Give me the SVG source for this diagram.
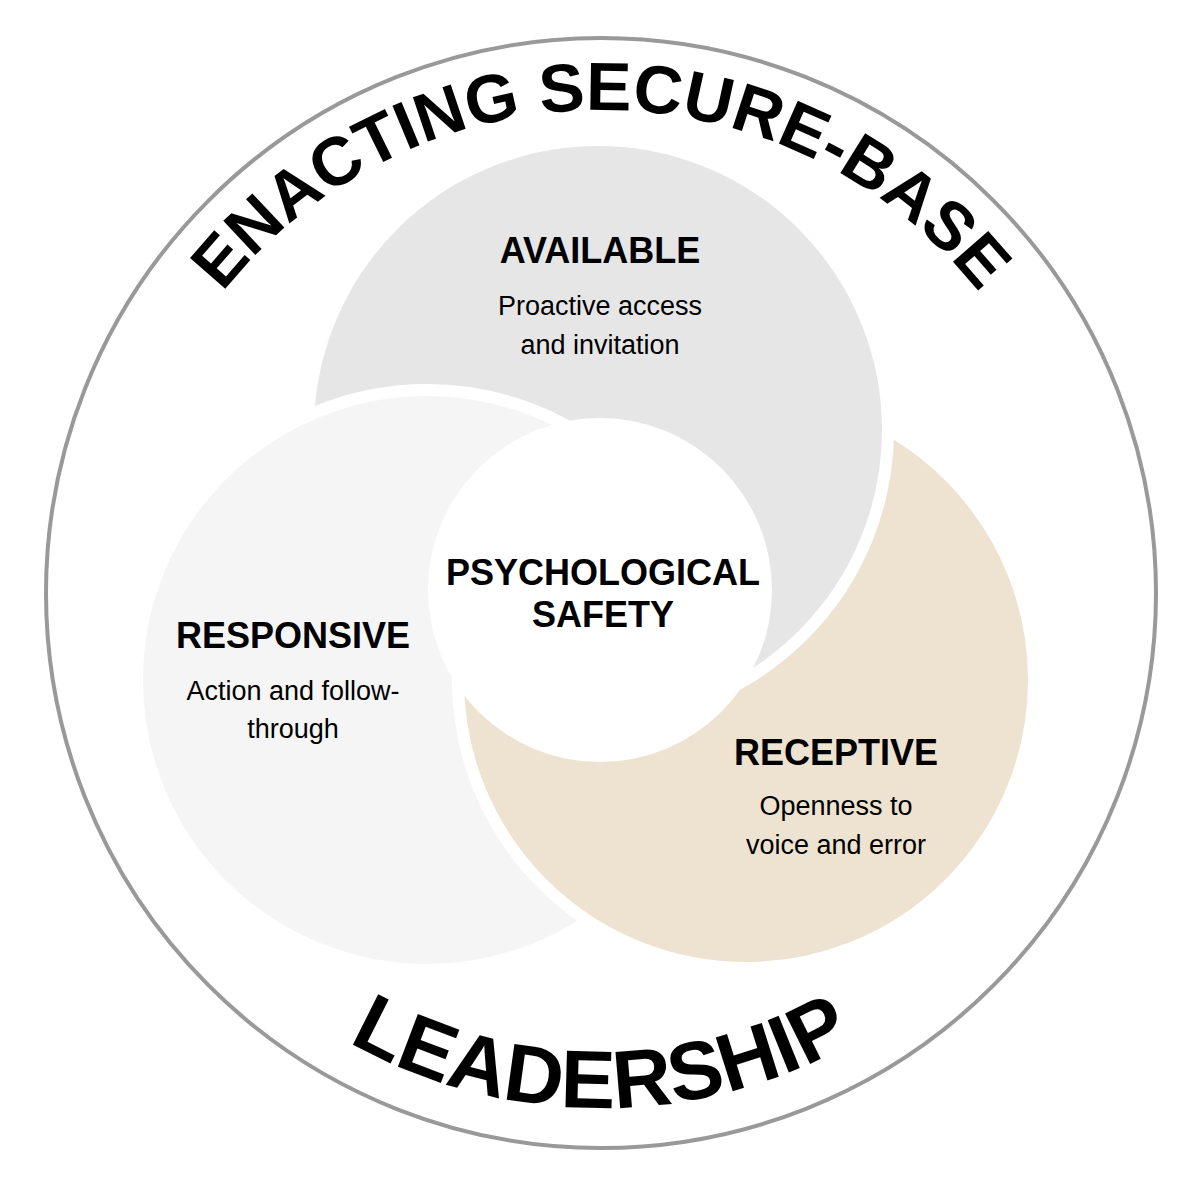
<svg xmlns="http://www.w3.org/2000/svg" width="1202" height="1186" viewBox="0 0 1202 1186">
<style>
.c{stroke:#fff;stroke-width:12}
.h{font-family:"Liberation Sans",Arial,sans-serif;font-weight:bold;fill:#000;text-anchor:middle}
.t{font-family:"Liberation Sans",Arial,sans-serif;font-size:27px;fill:#000;text-anchor:middle}
.big{font-family:"Liberation Sans",Arial,sans-serif;font-weight:bold;fill:#000;text-anchor:middle}
</style>
<defs>
<path id="top" d="M 118,593 A 483 483 0 0 1 1084,593"/>
<path id="bot" d="M 86,593 A 515 515 0 0 0 1116,593"/>
<clipPath id="rh"><polygon points="585,0 1202,0 1202,1186 660,1186 660,500 585,445"/></clipPath>
</defs>
<rect width="1202" height="1186" fill="#fff"/>
<g id="outer"><circle cx="601" cy="593" r="555" fill="#fff" stroke="#999" stroke-width="4"/></g>
<g id="available"><circle class="c" cx="598" cy="430" r="290" fill="#e6e6e6"/></g>
<g id="responsive"><circle class="c" cx="427" cy="680" r="290" fill="#f5f5f5"/></g>
<g id="receptive"><circle class="c" cx="746" cy="680" r="288" fill="#ede3d0"/></g>
<g id="available-top"><circle class="c" cx="598" cy="430" r="290" fill="#e6e6e6" clip-path="url(#rh)"/></g>
<g id="center"><circle cx="600" cy="590" r="172" fill="#fff"/></g>
<g id="labels">
<text class="h" x="600" y="263" font-size="36">AVAILABLE</text>
<text class="t" x="600" y="315">Proactive access</text>
<text class="t" x="600" y="354">and invitation</text>
<text class="h" x="603" y="585" font-size="36">PSYCHOLOGICAL</text>
<text class="h" x="603" y="627" font-size="36">SAFETY</text>
<text class="h" x="293" y="648" font-size="36">RESPONSIVE</text>
<text class="t" x="293" y="700">Action and follow-</text>
<text class="t" x="293" y="738">through</text>
<text class="h" x="836" y="765" font-size="36">RECEPTIVE</text>
<text class="t" x="836" y="815">Openness to</text>
<text class="t" x="836" y="854">voice and error</text>
<text class="big" font-size="68"><textPath href="#top" startOffset="50%">ENACTING SECURE-BASE</textPath></text>
<text class="big" font-size="82"><textPath href="#bot" startOffset="50%">LEADERSHIP</textPath></text>
</g>
<g id="connectors"/>
</svg>
